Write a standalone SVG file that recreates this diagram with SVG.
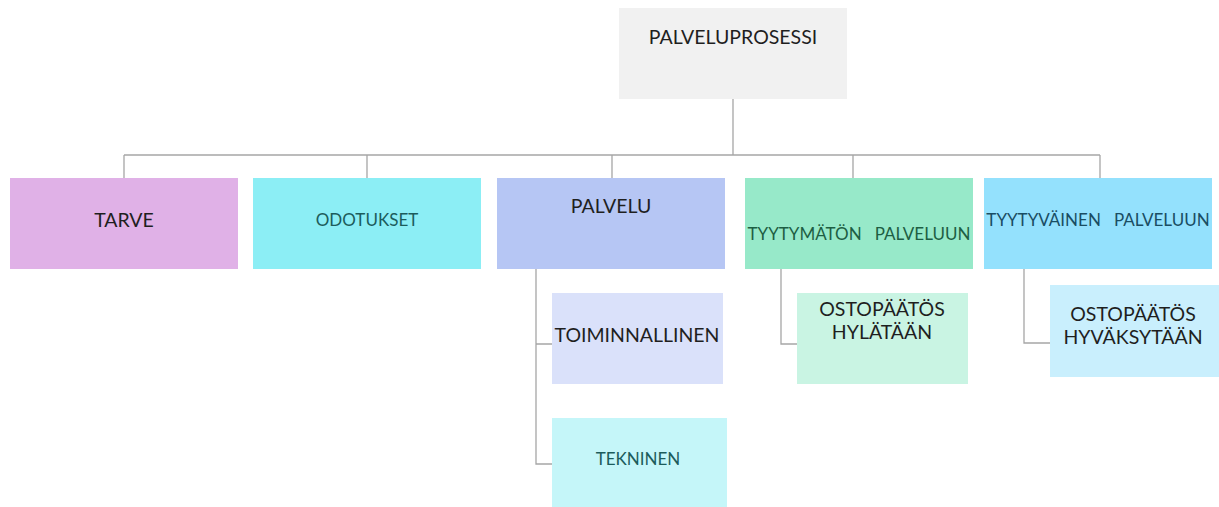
<svg xmlns="http://www.w3.org/2000/svg" width="1219" height="507" viewBox="0 0 1219 507">
<style>
text{font-family:Lato,"Open Sans","Liberation Sans",sans-serif;text-anchor:middle}
.d{fill:#1f1f1f;font-size:19.5px}
.t{fill:#1c5c5c;font-size:17px}
.g{fill:#1d5e43;font-size:17px}
.b{fill:#1a4d63;font-size:17px}
.c path{fill:none;stroke:#a6a6a6;stroke-width:1.3}
</style>
<rect width="1219" height="507" fill="#ffffff"/>
<g class="c" id="connectors">
<path d="M733 99V155M124 155H1100M124 155V178M367 155V178M612 155V178M853 155V178M1100 155V178"/>
<path d="M536 269V464H552M536 344H552"/>
<path d="M781 269V344H797"/>
<path d="M1024 269V343H1050"/>
</g>
<g id="palveluprosessi"><rect x="619" y="8" width="228" height="91" fill="#f1f1f1"/><text class="d" x="733" y="44">PALVELUPROSESSI</text></g>
<g id="tarve"><rect x="10" y="178" width="228" height="91" fill="#e0b1e7"/><text class="d" x="124" y="227">TARVE</text></g>
<g id="odotukset"><rect x="253" y="178" width="228" height="91" fill="#8ceef5"/><text class="t" x="367" y="226">ODOTUKSET</text></g>
<g id="palvelu"><rect x="497" y="178" width="228" height="91" fill="#b6c6f4"/><text class="d" x="611" y="213">PALVELU</text></g>
<g id="tyytymaton"><rect x="745" y="178" width="228" height="91" fill="#97e9c9"/><text class="g" x="859" y="240" xml:space="preserve">TYYTYMÄTÖN   PALVELUUN</text></g>
<g id="tyytyvainen"><rect x="984" y="178" width="228" height="91" fill="#94e1fd"/><text class="b" x="1098" y="226" xml:space="preserve">TYYTYVÄINEN   PALVELUUN</text></g>
<g id="toiminnallinen"><rect x="552" y="293" width="171" height="91" fill="#dae1fa"/><text class="d" x="637" y="342">TOIMINNALLINEN</text></g>
<g id="tekninen"><rect x="552" y="418" width="175" height="89" fill="#c5f6f9"/><text class="t" x="638" y="465">TEKNINEN</text></g>
<g id="hylataan"><rect x="797" y="293" width="171" height="91" fill="#c9f4e3"/><text class="d" x="882" y="316">OSTOPÄÄTÖS</text><text class="d" x="882" y="339">HYLÄTÄÄN</text></g>
<g id="hyvaksytaan"><rect x="1050" y="285" width="169" height="92" fill="#c9effd"/><text class="d" x="1133" y="321">OSTOPÄÄTÖS</text><text class="d" x="1133" y="344">HYVÄKSYTÄÄN</text></g>
</svg>
